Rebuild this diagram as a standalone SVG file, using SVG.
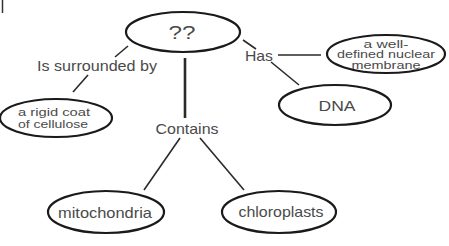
<svg xmlns="http://www.w3.org/2000/svg" width="449" height="246" viewBox="0 0 449 246">
<style>
.n{fill:none;stroke:#1a1a1a;stroke-width:2.2}
.c{stroke:#2a2a2a;stroke-width:1.6;fill:none}
text{font-family:"Liberation Sans",Arial,sans-serif;fill:#4a4a4a;text-anchor:middle;dominant-baseline:central}
.l{font-size:15px}
.s{font-size:11px}
.t{font-size:10px}
</style>
<rect width="449" height="246" fill="#fff"/>
<line x1="2.5" y1="0" x2="2.5" y2="13" stroke="#333" stroke-width="1.5"/>
<g id="connectors">
<line class="c" x1="128" y1="46" x2="115" y2="57"/>
<line class="c" x1="88" y1="75" x2="73" y2="92"/>
<line class="c" x1="185" y1="58" x2="185" y2="118" style="stroke-width:2.6"/>
<line class="c" x1="180" y1="138" x2="144" y2="190"/>
<line class="c" x1="200" y1="138" x2="244" y2="190"/>
<line class="c" x1="243" y1="40" x2="256" y2="49"/>
<line class="c" x1="278" y1="55" x2="321" y2="55"/>
<line class="c" x1="271" y1="62" x2="299" y2="85"/>
</g>
<g id="labels">
<text class="l" x="97" y="65" textLength="120" lengthAdjust="spacingAndGlyphs">Is surrounded by</text>
<text class="l" x="187" y="128" textLength="63" lengthAdjust="spacingAndGlyphs">Contains</text>
<text class="l" x="259" y="55" textLength="28" lengthAdjust="spacingAndGlyphs">Has</text>
</g>
<g id="n-root">
<ellipse class="n" cx="183" cy="32" rx="57" ry="20"/>
<text x="182" y="32" style="font-size:19px" textLength="27" lengthAdjust="spacingAndGlyphs">??</text>
</g>
<g id="n-cellulose">
<ellipse class="n" cx="56" cy="118" rx="56" ry="19"/>
<text class="s" x="54" y="112" textLength="72" lengthAdjust="spacingAndGlyphs">a rigid coat</text>
<text class="s" x="53" y="124" textLength="70" lengthAdjust="spacingAndGlyphs">of cellulose</text>
</g>
<g id="n-membrane">
<ellipse class="n" cx="386" cy="54" rx="59" ry="19"/>
<text class="t" x="386" y="44" textLength="45" lengthAdjust="spacingAndGlyphs">a well-</text>
<text class="t" x="386" y="54.5" textLength="98" lengthAdjust="spacingAndGlyphs">defined nuclear</text>
<text class="t" x="386" y="65" textLength="69" lengthAdjust="spacingAndGlyphs">membrane</text>
</g>
<g id="n-dna">
<ellipse class="n" cx="335" cy="105" rx="56" ry="20"/>
<text class="l" x="337" y="105" textLength="37" lengthAdjust="spacingAndGlyphs">DNA</text>
</g>
<g id="n-mito">
<ellipse class="n" cx="106" cy="212" rx="58" ry="21"/>
<text class="l" x="105" y="212" textLength="94" lengthAdjust="spacingAndGlyphs">mitochondria</text>
</g>
<g id="n-chloro">
<ellipse class="n" cx="279" cy="212" rx="57" ry="21"/>
<text class="l" x="281" y="211" textLength="85" lengthAdjust="spacingAndGlyphs">chloroplasts</text>
</g>
</svg>
